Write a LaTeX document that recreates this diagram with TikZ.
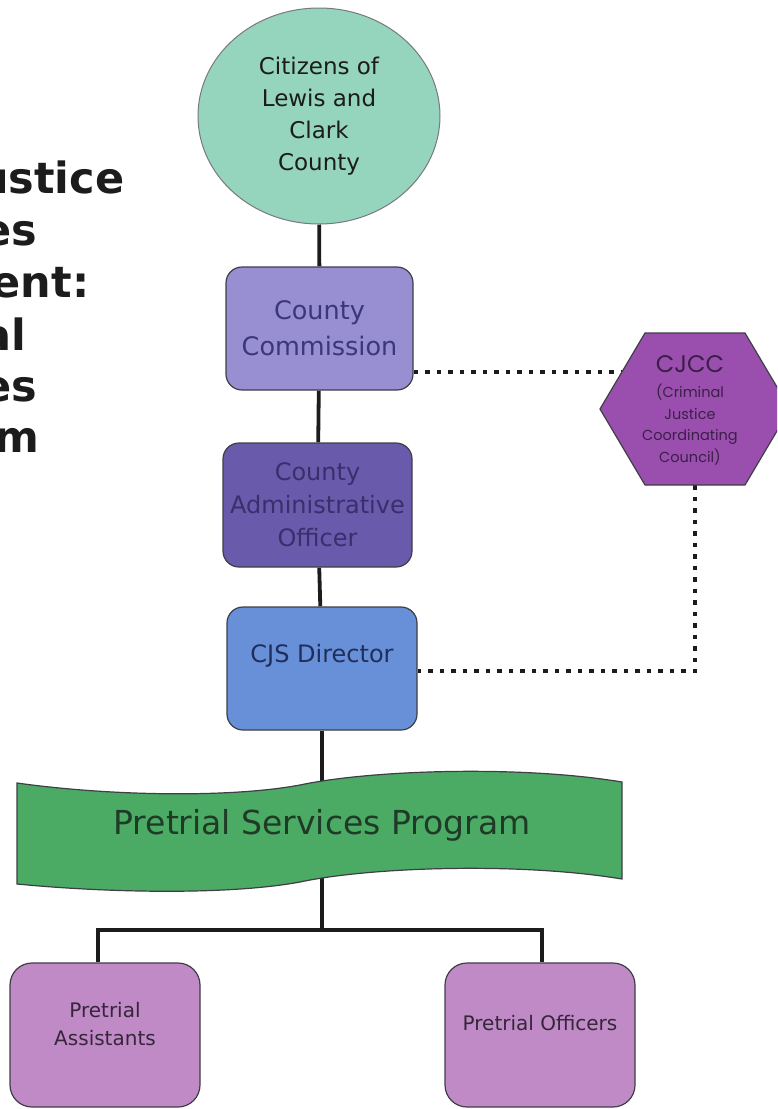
\documentclass[tikz,border=0pt]{standalone}
\usepackage{fontspec}
\setmainfont{DejaVu Sans}
\newfontfamily\geofont{Poppins}
\usetikzlibrary{shapes.geometric}
\pgfdeclarelayer{bg}
\pgfsetlayers{bg,main}
\definecolor{mint}{HTML}{95D5BD}
\definecolor{ccfill}{HTML}{988ED2}
\definecolor{cctext}{HTML}{3C3875}
\definecolor{caofill}{HTML}{6A5AAB}
\definecolor{caotext}{HTML}{3A2E6C}
\definecolor{cjsfill}{HTML}{6790D8}
\definecolor{cjstext}{HTML}{1F2E5C}
\definecolor{bannerfill}{HTML}{4BAA63}
\definecolor{bannertext}{HTML}{1F3A27}
\definecolor{hexfill}{HTML}{9A4FAE}
\definecolor{hextext}{HTML}{3B1F48}
\definecolor{pfill}{HTML}{C08AC7}
\definecolor{ptext}{HTML}{35263A}
\definecolor{edge}{HTML}{3E3E46}
\definecolor{ink}{HTML}{1C1C1C}
\begin{document}
\begin{tikzpicture}[x=1pt,y=-1pt,
  orgbox/.style={draw=edge, line width=1.2pt, rounded corners=16pt, inner sep=0pt, align=center},
  conn/.style={draw=ink, line width=3.8pt},
  dotline/.style={draw=ink, line width=4.5pt, dash pattern=on 4.5pt off 7pt},
  titletext/.style={anchor=base, text=ink, inner sep=0pt, font=\fontsize{43}{50}\selectfont\bfseries},
  nodetext/.style={inner sep=0pt, align=center}
]
\useasboundingbox (0,0) rectangle (777,1109);
\clip (0,0) rectangle (777,1109);

% title (cropped at the left edge, as in the reference)
\node[titletext] (t1) at (-65,193) {Criminal Justice};
\node[titletext] (t2) at (-65,245) {Services};
\node[titletext] (t3) at (-65,297) {Department:};
\node[titletext] (t4) at (-65,350) {Pretrial};
\node[titletext] (t5) at (-65,401) {Services};
\node[titletext] (t6) at (-65,452) {Program};

% citizens
\node[ellipse, draw=edge!70, line width=1pt, fill=mint, minimum width=242pt, minimum height=216pt,
      inner sep=0pt, align=center, text=ink, font=\fontsize{23}{32}\selectfont] (cit) at (319,116)
      {Citizens of\\Lewis and\\Clark\\County};

% boxes
\node[orgbox, fill=ccfill, minimum width=187pt, minimum height=123pt, text=cctext,
      font=\fontsize{25.5}{36}\selectfont] (cc) at (319.5,328.5) {County\\Commission};
\node[orgbox, fill=caofill, minimum width=189pt, minimum height=124pt, text=caotext,
      font=\fontsize{24}{33}\selectfont] (cao) at (317.5,505) {County\\Administrative\\Officer};
\node[orgbox, fill=cjsfill, minimum width=190pt, minimum height=123pt] (cjs) at (322,668.5) {};
\node[nodetext, text=cjstext, font=\fontsize{24}{30}\selectfont] (cjst) at ([yshift=13pt]cjs.center) {CJS Director};

% banner
\path[draw=edge, line width=1.2pt, fill=bannerfill]
  (17,783) .. controls (110,796) and (230,798) .. (300,785)
  .. controls (370,770) and (520,765) .. (622,782)
  -- (622,879)
  .. controls (520,862) and (370,867) .. (300,882)
  .. controls (230,895) and (110,893) .. (17,884) -- cycle;
\node[nodetext, text=bannertext, font=\fontsize{33}{38}\selectfont] (psp) at (322,825) {Pretrial Services Program};
\coordinate (tee) at (322,930);

% hexagon
\path[draw=edge, line width=1.2pt, fill=hexfill]
  (600,409) -- (645,333) -- (745,333) -- (790,409) -- (745,485) -- (645,485) -- cycle;
\node[nodetext, text=hextext, font=\geofont\fontsize{14.5}{21.5}\selectfont] (cjcc) at (690,410)
  {{\fontsize{24}{28}\selectfont CJCC}\\[4pt](Criminal\\Justice\\Coordinating\\Council)};
\coordinate (hexA) at (622,372);
\coordinate (hexB) at (695,485);
\coordinate (corner) at (695,671);

% bottom boxes
\node[orgbox, rounded corners=22pt, fill=pfill, minimum width=190pt, minimum height=144pt] (pa) at (105,1035) {};
\node[nodetext, text=ptext, font=\fontsize{20}{28}\selectfont] (pat) at ([yshift=11pt]pa.center) {Pretrial\\Assistants};
\node[orgbox, rounded corners=22pt, fill=pfill, minimum width=190pt, minimum height=144pt] (po) at (540,1035) {};
\node[nodetext, text=ptext, font=\fontsize{20}{28}\selectfont] (pot) at ([yshift=12pt]po.center) {Pretrial Officers};

% connectors
\begin{pgfonlayer}{bg}
\draw[conn] (cit) -- (cc);
\draw[conn] (cc) -- (cao);
\draw[conn] (cao) -- (cjs);
\draw[conn] (cjs) -- (tee);
\draw[conn] ([xshift=-7pt]pa.north) |- (tee) -| ([xshift=2pt]po.north);
\draw[dotline] (cc.east |- hexA) -- (hexA);
\draw[dotline] (hexB) -- (corner) -- (cjs.east |- corner);
\end{pgfonlayer}
\end{tikzpicture}
\end{document}
